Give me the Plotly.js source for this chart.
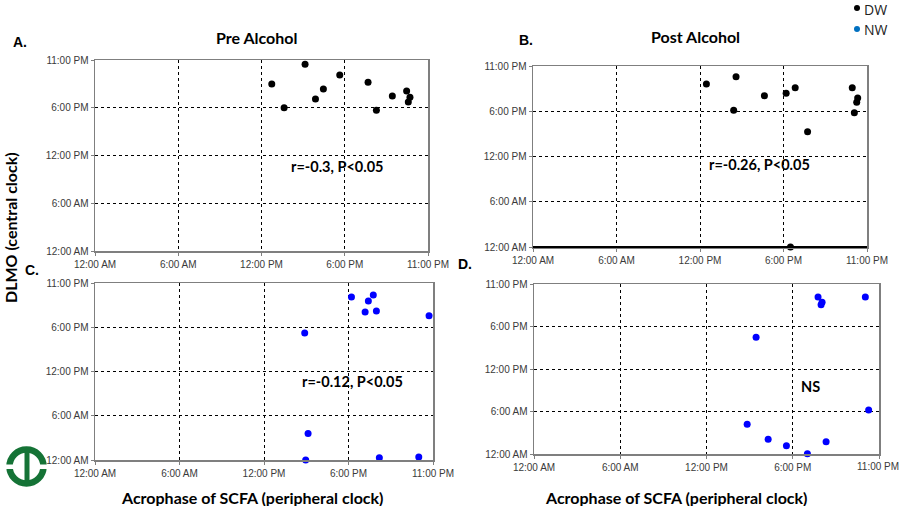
<!DOCTYPE html>
<html>
<head>
<meta charset="utf-8">
<script src="https://cdn.plot.ly/plotly-3.0.1.min.js"></script>
<style>html,body{margin:0;padding:0;background:#fff;}#chart{width:900px;height:506px;}</style>
</head>
<body>
<div id="chart"></div>
<script>
// Time in hours (0 = 12:00 AM)
const tickHours = [0, 6, 12, 18, 24];
const tickLabels = ["12:00 AM", "6:00 AM", "12:00 PM", "6:00 PM", "11:00 PM"];

// A. Pre Alcohol, DW
const preDW_x = [12.74, 13.63, 15.14, 15.89, 16.46, 17.64, 19.68, 20.28, 21.43, 22.46, 22.70, 22.58];
const preDW_y = [20.98, 18.01, 23.46, 19.10, 20.36, 22.12, 21.19, 17.68, 19.48, 20.10, 19.31, 18.72];
// B. Post Alcohol, DW
const postDW_x = [12.46, 14.59, 14.42, 16.63, 18.19, 18.84, 19.73, 18.50, 22.94, 23.33, 23.26, 23.09];
const postDW_y = [21.61, 22.59, 18.12, 20.07, 20.38, 21.13, 15.29, 0.00, 21.13, 19.76, 19.18, 17.81];
// C. Pre Alcohol, NW
const preNW_x = [18.21, 19.76, 19.41, 19.18, 19.98, 23.72, 14.89, 15.13, 14.96, 20.19, 22.99];
const preNW_y = [22.10, 22.37, 21.55, 20.06, 20.20, 19.56, 17.21, 3.58, 0.00, 0.32, 0.41];
// D. Post Alcohol, NW
const postNW_x = [19.76, 20.04, 19.97, 23.05, 15.45, 23.28, 14.83, 16.29, 17.56, 19.02, 20.32];
const postNW_y = [22.16, 21.41, 21.08, 22.16, 16.47, 6.21, 4.19, 2.07, 1.18, 0.05, 1.74];

const panelTitles = ["Pre Alcohol", "Post Alcohol"];
const panelLetters = ["A.", "B.", "C.", "D."];
const statTexts = ["r=-0.3, P<0.05", "r=-0.26, P<0.05", "r=-0.12, P<0.05", "NS"];
const yTitle = "DLMO (central clock)";
const xTitle = "Acrophase of SCFA (peripheral clock)";
const legendNames = ["DW", "NW"];

const W = 900, H = 506;
const px = v => v / W;
const py = v => 1 - v / H;

const BLACK = "#000000", BLUE = "#0000FF", LEGBLUE = "#0070C0";
const BOLD = "Lato, 'Open Sans', sans-serif";
const TICKFONT = {family: "'Liberation Sans', Arial, sans-serif", size: 10, color: "#3a3a3a"};

function mk(x, y, color, xa, ya) {
  return {x: x, y: y, xaxis: xa, yaxis: ya, type: "scatter", mode: "markers",
    marker: {size: 7, color: color}, cliponaxis: false, showlegend: false, hoverinfo: "x+y"};
}
const data = [
  mk(preDW_x, preDW_y, BLACK, "x", "y"),
  mk(postDW_x, postDW_y, BLACK, "x2", "y2"),
  mk(preNW_x, preNW_y, BLUE, "x3", "y3"),
  mk(postNW_x, postNW_y, BLUE, "x4", "y4")
];

function axis(domain, anchor, labels) {
  return {domain: domain, anchor: anchor, range: [0, 24], tickvals: tickHours, ticktext: labels || tickLabels,
    showgrid: true, gridcolor: "#000", gridwidth: 1, griddash: "dot", zeroline: false,
    showline: true, mirror: true, linecolor: "#7f7f7f", linewidth: 1.5,
    ticks: "outside", ticklen: 3, tickcolor: "#7f7f7f", ticklabeloverflow: "allow",
    tickfont: TICKFONT, fixedrange: true};
}
// pixel boxes [left, right, top, bottom]
const boxes = [[95, 428, 60, 251], [533, 867, 66, 247], [95, 433, 283, 460], [534, 879, 284, 454]];
const layout = {width: W, height: H, margin: {l: 0, r: 0, t: 0, b: 0},
  paper_bgcolor: "#fff", plot_bgcolor: "#fff", showlegend: false, annotations: [], shapes: []};
boxes.forEach((b, i) => {
  const n = i === 0 ? "" : String(i + 1);
  // last x label of panel D runs into the page edge; it is drawn as an annotation below
  const xl = i === 3 ? tickLabels.slice(0, 4).concat([""]) : tickLabels;
  layout["xaxis" + n] = axis([px(b[0]), px(b[1])], "y" + n, xl);
  layout["yaxis" + n] = axis([py(b[3]), py(b[2])], "x" + n);
});

function ann(text, x, y, size, opts) {
  return Object.assign({text: text, x: px(x), y: py(y), xref: "paper", yref: "paper",
    showarrow: false, xanchor: "center", yanchor: "middle",
    font: {family: BOLD, size: size, color: "#000", weight: "bold"}}, opts || {});
}
const LET = {family: "'Liberation Sans', Arial", size: 14, color: "#000", weight: "bold"};
const A = layout.annotations;
A.push(ann(panelTitles[0], 256, 37, 16));
A.push(ann(panelTitles[1], 695, 36, 16));
A.push(ann(panelLetters[0], 20, 42, 14, {font: LET}));
A.push(ann(panelLetters[1], 526, 40, 14, {font: LET}));
A.push(ann(panelLetters[2], 32, 270, 14, {font: LET}));
A.push(ann(panelLetters[3], 465, 264, 14, {font: LET}));
A.push(ann(statTexts[0], 337, 166, 14.5));
A.push(ann(statTexts[1], 759, 164, 14.5));
A.push(ann(statTexts[2], 352, 381, 14.5));
A.push(ann(statTexts[3], 810, 386, 14.5));
A.push(ann(yTitle, 10, 228, 16, {textangle: -90}));
A.push(ann(xTitle, 252, 497, 16));
A.push(ann(xTitle, 676, 497, 16));
A.push(ann(legendNames[0], 862, 9, 14, {xanchor: "left", font: {family: "'Open Sans', sans-serif", size: 14, color: "#222"}}));
A.push(ann(legendNames[1], 862, 29, 14, {xanchor: "left", font: {family: "'Open Sans', sans-serif", size: 14, color: "#222"}}));
A.push(ann(tickLabels[4], 878, 466, 10, {font: TICKFONT}));

const S = layout.shapes;
function pcircle(cx, cy, r, fill) {
  return {type: "circle", xref: "paper", yref: "paper", x0: px(cx - r), x1: px(cx + r), y0: py(cy + r), y1: py(cy - r),
    fillcolor: fill, line: {width: 0}};
}
S.push(pcircle(857, 8, 3, BLACK));
S.push(pcircle(857, 29, 3, LEGBLUE));
// black bottom line of panel B
S.push({type: "line", xref: "paper", yref: "paper", x0: px(533), x1: px(867), y0: py(247), y1: py(247), line: {color: "#000", width: 2}});
// logo
const GREEN = "#157336";
S.push({type: "circle", xref: "paper", yref: "paper", x0: px(9.5), x1: px(43.5), y0: py(483.5), y1: py(449.5),
  fillcolor: "rgba(0,0,0,0)", line: {color: GREEN, width: 6.5}});
S.push({type: "rect", xref: "paper", yref: "paper", x0: px(3), x1: px(18), y0: py(469), y1: py(464.5), fillcolor: "#fff", line: {width: 0}});
S.push({type: "rect", xref: "paper", yref: "paper", x0: px(35), x1: px(50), y0: py(469), y1: py(464.5), fillcolor: "#fff", line: {width: 0}});
S.push({type: "rect", xref: "paper", yref: "paper", x0: px(24.5), x1: px(29.5), y0: py(486), y1: py(450), fillcolor: GREEN, line: {width: 0}});

Plotly.newPlot("chart", data, layout, {displayModeBar: false, staticPlot: true});
</script>
</body>
</html>
